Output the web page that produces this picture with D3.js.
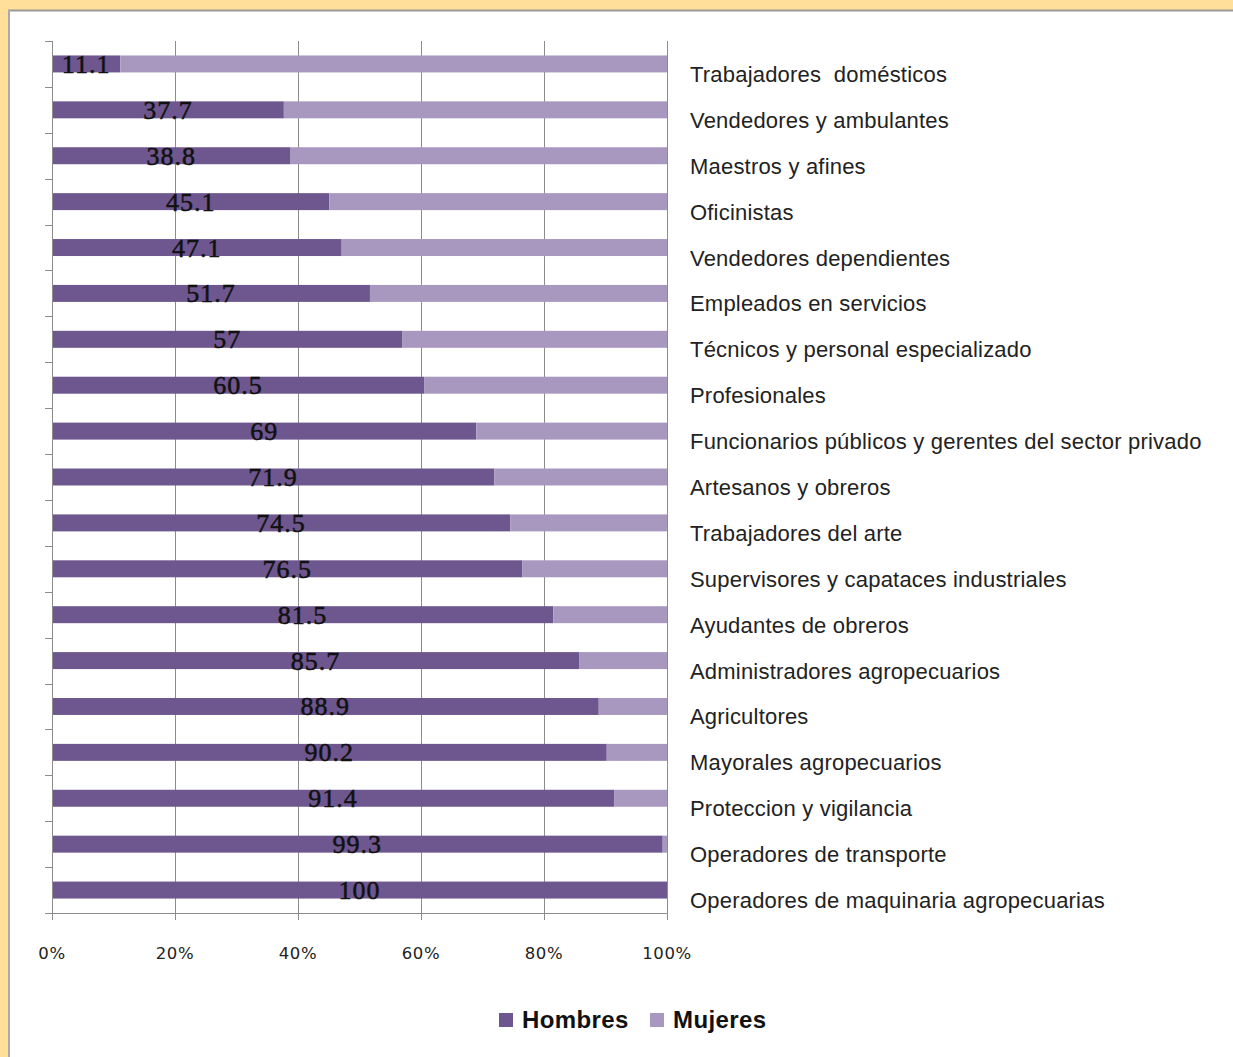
<!DOCTYPE html>
<html><head><meta charset="utf-8">
<script src="https://cdn.jsdelivr.net/npm/d3@7"></script>
<style>
html,body{margin:0;padding:0;background:#FFDF99;}
svg{display:block;}
</style></head>
<body>
<script>
const categories = [
  "Trabajadores  domésticos",
  "Vendedores y ambulantes",
  "Maestros y afines",
  "Oficinistas",
  "Vendedores dependientes",
  "Empleados en servicios",
  "Técnicos y personal especializado",
  "Profesionales",
  "Funcionarios públicos y gerentes del sector privado",
  "Artesanos y obreros",
  "Trabajadores del arte",
  "Supervisores y capataces industriales",
  "Ayudantes de obreros",
  "Administradores agropecuarios",
  "Agricultores",
  "Mayorales agropecuarios",
  "Proteccion y vigilancia",
  "Operadores de transporte",
  "Operadores de maquinaria agropecuarias"
];
const hombres = [11.1, 37.7, 38.8, 45.1, 47.1, 51.7, 57, 60.5, 69, 71.9, 74.5, 76.5, 81.5, 85.7, 88.9, 90.2, 91.4, 99.3, 100];
const mujeres = hombres.map(h => +(100 - h).toFixed(1));
const seriesNames = ["Hombres", "Mujeres"];
const tickValues = [0, 20, 40, 60, 80, 100];

const W = 1233, H = 1057;
const colors = {Hombres: "#6E578E", Mujeres: "#A898C0"};

const svg = d3.select("body").append("svg").attr("width", W).attr("height", H);

// white panel with grey border
svg.append("rect").attr("x", 9).attr("y", 10).attr("width", W - 9).attr("height", H - 10)
  .attr("fill", "#fff");
svg.append("line").attr("x1", 8).attr("x2", W).attr("y1", 10.5).attr("y2", 10.5).attr("stroke", "#999").attr("stroke-width", 2);
svg.append("line").attr("x1", 9).attr("x2", 9).attr("y1", 10).attr("y2", H).attr("stroke", "#aaa").attr("stroke-width", 2);

const x = d3.scaleLinear().domain([0, 100]).range([52, 667]);
const y = d3.scaleBand().domain(categories).range([41, 913]).paddingInner(0.63).paddingOuter(0.315);
const yOuter = d3.scaleBand().domain(categories).range([41, 913]);

// gridlines
svg.append("g").selectAll("line").data(tickValues.slice(1)).join("line")
  .attr("x1", d => x(d) + 0.5).attr("x2", d => x(d) + 0.5)
  .attr("y1", 41).attr("y2", 920)
  .attr("stroke", "#8c8c8c").attr("stroke-width", 1);

// bars
const data = categories.map((c, i) => ({c, h: hombres[i], m: mujeres[i]}));
const gBars = svg.append("g");
gBars.selectAll("rect.h").data(data).join("rect").attr("class", "h")
  .attr("x", x(0)).attr("y", d => y(d.c)).attr("width", d => x(d.h) - x(0)).attr("height", y.bandwidth())
  .attr("fill", colors.Hombres);
gBars.selectAll("rect.m").data(data).join("rect").attr("class", "m")
  .attr("x", d => x(d.h)).attr("y", d => y(d.c)).attr("width", d => x(d.h + d.m) - x(d.h)).attr("height", y.bandwidth())
  .attr("fill", colors.Mujeres);

// y axis
const yAxis = svg.append("g");
yAxis.append("line").attr("x1", 52.5).attr("x2", 52.5).attr("y1", 41).attr("y2", 913).attr("stroke", "#8c8c8c");
const bounds = categories.map(c => yOuter(c)).concat([913]);
yAxis.selectAll("line.t").data(bounds).join("line").attr("class", "t")
  .attr("x1", 45).attr("x2", 52).attr("y1", d => Math.round(d) + 0.5).attr("y2", d => Math.round(d) + 0.5)
  .attr("stroke", "#8c8c8c");

// x axis
const xAxis = svg.append("g");
xAxis.append("line").attr("x1", 52).attr("x2", 667).attr("y1", 913.5).attr("y2", 913.5).attr("stroke", "#8c8c8c");
xAxis.selectAll("line.t").data(tickValues).join("line").attr("class", "t")
  .attr("x1", d => x(d) + 0.5).attr("x2", d => x(d) + 0.5).attr("y1", 913).attr("y2", 920)
  .attr("stroke", "#8c8c8c");
xAxis.selectAll("text").data(tickValues).join("text")
  .attr("x", d => x(d)).attr("y", 959).attr("text-anchor", "middle")
  .attr("font-family", "DejaVu Sans").attr("font-size", 16.5).attr("letter-spacing", 0.6)
  .attr("fill", "#222").text(d => d + "%");

// value labels
svg.append("g").selectAll("text").data(data).join("text")
  .attr("x", d => (x(0) + x(d.h)) / 2).attr("y", d => y(d.c) + y.bandwidth() / 2 + 9)
  .attr("text-anchor", "middle")
  .attr("font-family", "Liberation Serif, Times New Roman").attr("font-size", 26).attr("letter-spacing", 1)
  .attr("fill", "#111").attr("stroke", "#111").attr("stroke-width", 0.5)
  .text(d => d.h);

// category labels on right
svg.append("g").selectAll("text").data(categories).join("text")
  .attr("x", 690).attr("y", d => y(d) + y.bandwidth() / 2 + 18)
  .attr("font-family", "Liberation Sans, Arial").attr("font-size", 22).attr("letter-spacing", 0.2)
  .attr("fill", "#222").style("white-space", "pre")
  .text(d => d);

// legend
const leg = svg.append("g");
const legX = [499, 650];
seriesNames.forEach((s, i) => {
  leg.append("rect").attr("x", legX[i]).attr("y", 1013).attr("width", 14).attr("height", 14).attr("fill", colors[s]);
  leg.append("text").attr("x", legX[i] + 23).attr("y", 1028)
    .attr("font-family", "Liberation Sans, Arial").attr("font-weight", "bold").attr("font-size", 24)
    .attr("letter-spacing", 0.4)
    .attr("fill", "#111").text(s);
});
</script>
</body></html>
